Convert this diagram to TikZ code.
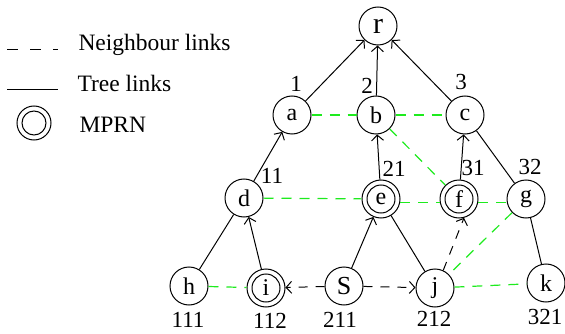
\documentclass[tikz,border=0pt]{standalone}
\usepackage{fontspec}
\setmainfont{Liberation Serif}
\usetikzlibrary{arrows.meta}
\definecolor{nbgreen}{RGB}{30,235,30}
\begin{document}
\begin{tikzpicture}[x=1pt,y=-1pt, line width=1pt,
  nd/.style={circle,draw,minimum size=38pt,inner sep=0pt,font=\fontsize{24}{28}\selectfont},
  mprn/.style={nd, path picture={\draw (path picture bounding box.center) circle[radius=14pt];}},
  lbl/.style={font=\fontsize{23}{27}\selectfont, inner sep=0pt},
  leg/.style={font=\fontsize{23.5}{27}\selectfont, inner sep=0pt, anchor=base west},
  tree/.style={-{Straight Barb[length=5.5pt,width=12pt]}},
  nb/.style={draw=nbgreen, line width=1.2pt, dash pattern=on 10pt off 8pt},
  bd/.style={dash pattern=on 9pt off 8pt, -{Straight Barb[length=5.5pt,width=12pt]}}]
\useasboundingbox (0,0) rectangle (565,334);
% legend
\coordinate (l1a) at (7,50); \coordinate (l1b) at (58,50);
\coordinate (l2a) at (7,90); \coordinate (l2b) at (58,90);
\draw[dash pattern=on 11pt off 12pt] (l1a) -- (l1b);
\draw (l2a) -- (l2b);
\node[circle,draw,minimum size=34pt,inner sep=0pt,
  path picture={\draw (path picture bounding box.center) circle[radius=12pt];}] (leg) at (34,123) {};
\node[leg] (t1) at (78,51) {Neighbour links};
\node[leg] (t2) at (77,92) {Tree links};
\node[leg] (t3) at (79,133) {MPRN};
% nodes
\node[nd,font=\fontsize{30}{34}\selectfont] (r) at (378,26) {r};
\node[nd] (a) at (292,115) {a};
\node[nd] (b) at (376,115) {b};
\node[nd] (c) at (465,115) {c};
\node[nd] (d) at (244,198) {d};
\node[mprn] (e) at (381,199) {e};
\node[mprn] (f) at (459,199) {f};
\node[nd] (g) at (526,199) {g};
\node[nd] (h) at (189,286) {h};
\node[mprn] (i) at (266,288) {i};
\node[nd,font=\fontsize{26}{30}\selectfont] (S) at (344,286) {S};
\node[nd] (j) at (435,288) {j};
\node[nd] (k) at (546,283) {k};
% labels
\node[lbl] (n1) at (296,84) {1};
\node[lbl] (n2) at (367,86) {2};
\node[lbl] (n3) at (461,82) {3};
\node[lbl] (n11) at (272,176) {11};
\node[lbl] (n21) at (394,169) {21};
\node[lbl] (n31) at (473,168) {31};
\node[lbl] (n32) at (530,167) {32};
\node[lbl] (n111) at (188,320) {111};
\node[lbl] (n112) at (270,321) {112};
\node[lbl] (n211) at (340,320) {211};
\node[lbl] (n212) at (434,319) {212};
\node[lbl] (n321) at (545,317) {321};
% neighbour links
\draw[nb] (a) -- (b);
\draw[nb] (b) -- (c);
\draw[nb] (b) -- (f);
\draw[nb] (d) -- (e);
\draw[nb] (e.-10) -- (f.190);
\draw[nb] (f.-10) -- (g.190);
\draw[nb] (g) -- (j);
\draw[nb] (h) -- (i);
\draw[nb] (j) -- (k);
% tree links
\draw[tree] (a) -- (r);
\draw[tree] (b) -- (r);
\draw[tree] (c) -- (r);
\draw[tree] (d) -- (a);
\draw[tree] (e) -- (b);
\draw[tree] (f) -- (c);
\draw[tree] (i) -- (d);
\draw[tree] (S) -- (e);
\draw (c) -- (g);
\draw (d) -- (h);
\draw (e) -- (j);
\draw (g) -- (k);
% dashed black arrows
\draw[bd] (S) -- (i);
\draw[bd] (S) -- (j);
\draw[bd] (j.65) -- (f.-75);
\end{tikzpicture}
\end{document}
